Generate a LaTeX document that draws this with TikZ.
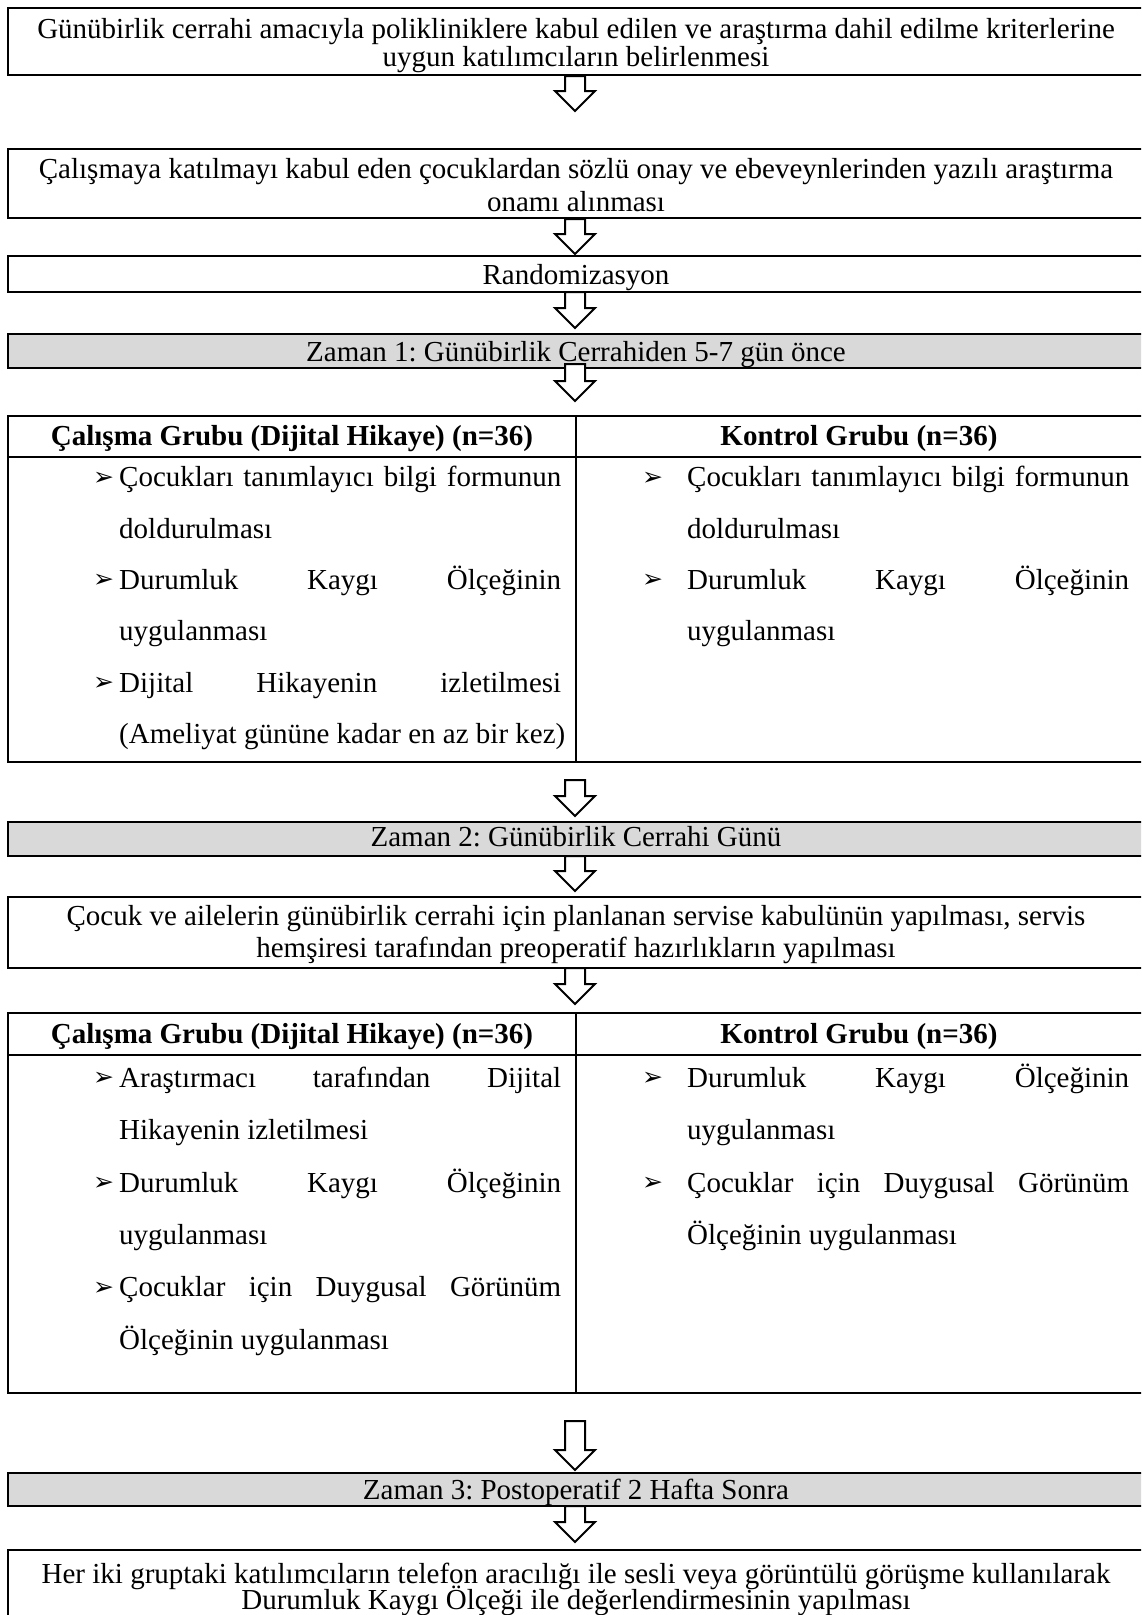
\documentclass[tikz,border=0pt]{standalone}
\usepackage{fontspec}
\setmainfont{Liberation Serif}
\newfontfamily\dejavu{DejaVu Sans}
\definecolor{barGray}{HTML}{D9D9D9}
\frenchspacing
\newcommand\jline[1]{\makebox[442pt][s]{#1}}
\newcommand\blockarrow[2]{%
  \draw[blockarr] (565,#1) -- (585,#1) -- (585,{#2-20}) -- (595,{#2-20}) -- (575,#2)
     -- (555,{#2-20}) -- (565,{#2-20}) -- cycle;}
\begin{document}
\begin{tikzpicture}[x=1pt,y=-1pt,
  box/.style={draw, line width=2.4pt, minimum width=1136pt, inner sep=0pt},
  graybox/.style={box, fill=barGray},
  rule/.style={line width=2.4pt},
  blockarr/.style={draw, line width=2pt, fill=white, line join=miter},
  ctxt/.style={inner sep=0pt, font=\fontsize{29}{31}\selectfont, text height=22pt, text depth=6pt},
  btxt/.style={inner sep=0pt, anchor=base, font=\fontsize{29}{31}\selectfont, text height=17pt, text depth=6pt},
  txt/.style={ctxt, anchor=west},
  hdr/.style={ctxt, font=\fontsize{29}{31}\selectfont\bfseries},
  bul/.style={inner sep=0pt, anchor=west, font=\dejavu\fontsize{25}{25}\selectfont}]
\clip (0,0) rectangle (1141,1615);
\fill[white] (0,0) rectangle (1141,1615);

% ---------- block arrows (drawn first, under the bars) ----------
\blockarrow{76}{111}
\blockarrow{219}{254}
\blockarrow{292}{328}
\blockarrow{780}{816}
\blockarrow{968}{1004}
\blockarrow{1421}{1470}

% ---------- top boxes ----------
\node[box, minimum height=67pt] (b1) at (576,41.5) {};
\node[ctxt] (b1a) at (576,30.5) {Günübirlik cerrahi amacıyla polikliniklere kabul edilen ve araştırma dahil edilme kriterlerine};
\node[ctxt] (b1b) at (576,58.5) {uygun katılımcıların belirlenmesi};

\node[box, minimum height=69pt] (b2) at (576,183.5) {};
\node[ctxt] (b2a) at (576,170.5) {Çalışmaya katılmayı kabul eden çocuklardan sözlü onay ve ebeveynlerinden yazılı araştırma};
\node[ctxt] (b2b) at (576,203) {onamı alınması};

\node[box, minimum height=36pt] (rand) at (576,274) {};
\node[ctxt] (randt) at (576,276.5) {Randomizasyon};

\node[graybox, minimum height=34pt] (z1) at (576,351) {};
\node[ctxt] (z1t) at (576,353) {Zaman 1: Günübirlik Cerrahiden 5-7 gün önce};
\blockarrow{364}{401}

% ---------- table 1 ----------
\node[box, minimum height=346pt] (t1) at (576,589) {};
\draw[rule] (t1.west |- 0,457) -- (t1.east |- 0,457);
\draw[rule] (576,416) -- (576,762);
\node[hdr] (t1h1) at (292,437) {Çalışma Grubu (Dijital Hikaye) (n=36)};
\node[hdr] (t1h2) at (859,437) {Kontrol Grubu (n=36)};

\node[bul] (t1b1) at (93,478.5) {➢};
\node[txt] (t1l1) at (119,478.5) {\jline{Çocukları tanımlayıcı bilgi formunun}};
\node[txt] (t1l2) at (119,530) {doldurulması};
\node[bul] (t1b2) at (93,581) {➢};
\node[txt] (t1l3) at (119,581) {\jline{Durumluk Kaygı Ölçeğinin}};
\node[txt] (t1l4) at (119,632) {uygulanması};
\node[bul] (t1b3) at (93,684) {➢};
\node[txt] (t1l5) at (119,684) {\jline{Dijital Hikayenin izletilmesi}};
\node[txt] (t1l6) at (119,735) {(Ameliyat gününe kadar en az bir kez)};

\node[bul] (t1b4) at (642,478.5) {➢};
\node[txt] (t1r1) at (687,478.5) {\jline{Çocukları tanımlayıcı bilgi formunun}};
\node[txt] (t1r2) at (687,530) {doldurulması};
\node[bul] (t1b5) at (642,581) {➢};
\node[txt] (t1r3) at (687,581) {\jline{Durumluk Kaygı Ölçeğinin}};
\node[txt] (t1r4) at (687,632) {uygulanması};

% ---------- middle ----------
\node[graybox, minimum height=34pt] (z2) at (576,839) {};
\node[ctxt] (z2t) at (576,838.5) {Zaman 2: Günübirlik Cerrahi Günü};
\blockarrow{856}{891}

\node[box, minimum height=71pt] (b3) at (576,932.5) {};
\node[ctxt] (b3a) at (576,917.5) {Çocuk ve ailelerin günübirlik cerrahi için planlanan servise kabulünün yapılması, servis};
\node[ctxt] (b3b) at (576,949.5) {hemşiresi tarafından preoperatif hazırlıkların yapılması};

% ---------- table 2 ----------
\node[box, minimum height=380pt] (t2) at (576,1203) {};
\draw[rule] (t2.west |- 0,1055) -- (t2.east |- 0,1055);
\draw[rule] (576,1013) -- (576,1393);
\node[hdr] (t2h1) at (292,1035.5) {Çalışma Grubu (Dijital Hikaye) (n=36)};
\node[hdr] (t2h2) at (859,1035.5) {Kontrol Grubu (n=36)};

\node[bul] (t2b1) at (93,1079) {➢};
\node[txt] (t2l1) at (119,1079) {\jline{Araştırmacı tarafından Dijital}};
\node[txt] (t2l2) at (119,1131.5) {Hikayenin izletilmesi};
\node[bul] (t2b2) at (93,1184) {➢};
\node[txt] (t2l3) at (119,1184) {\jline{Durumluk Kaygı Ölçeğinin}};
\node[txt] (t2l4) at (119,1236.5) {uygulanması};
\node[bul] (t2b3) at (93,1288.5) {➢};
\node[txt] (t2l5) at (119,1288.5) {\jline{Çocuklar için Duygusal Görünüm}};
\node[txt] (t2l6) at (119,1341) {Ölçeğinin uygulanması};

\node[bul] (t2b4) at (642,1079) {➢};
\node[txt] (t2r1) at (687,1079) {\jline{Durumluk Kaygı Ölçeğinin}};
\node[txt] (t2r2) at (687,1131.5) {uygulanması};
\node[bul] (t2b5) at (642,1184) {➢};
\node[txt] (t2r3) at (687,1184) {\jline{Çocuklar için Duygusal Görünüm}};
\node[txt] (t2r4) at (687,1236.5) {Ölçeğinin uygulanması};

% ---------- bottom ----------
\node[graybox, minimum height=33pt] (z3) at (576,1489.5) {};
\node[ctxt] (z3t) at (576,1491.5) {Zaman 3: Postoperatif 2 Hafta Sonra};
\blockarrow{1506}{1542}

\node[box, minimum height=89pt] (b4) at (576,1594.5) {};
\node[btxt] (b4a) at (576,1583) {Her iki gruptaki katılımcıların telefon aracılığı ile sesli veya görüntülü görüşme kullanılarak};
\node[btxt] (b4b) at (576,1609) {Durumluk Kaygı Ölçeği ile değerlendirmesinin yapılması};
\end{tikzpicture}
\end{document}
